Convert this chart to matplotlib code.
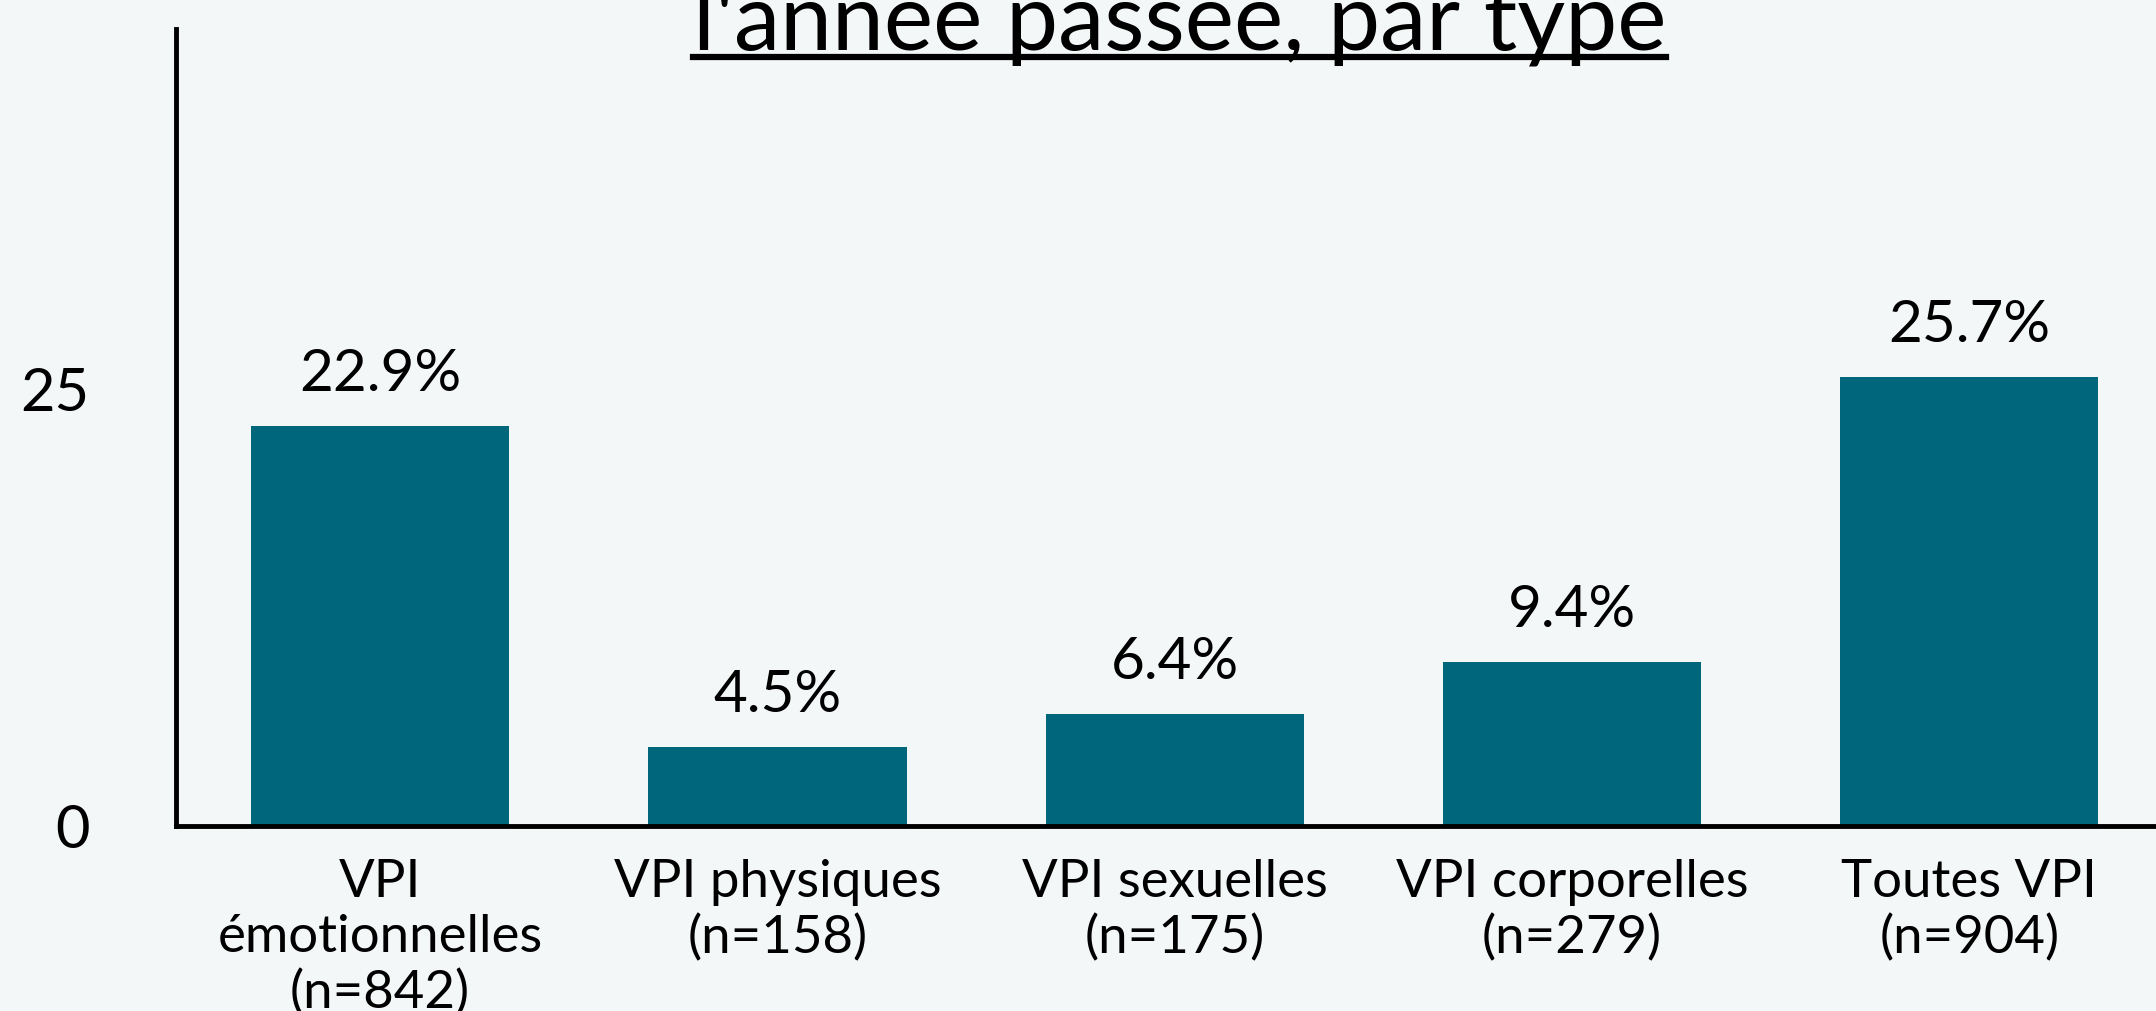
import matplotlib.pyplot as plt
from matplotlib.lines import Line2D

plt.rcParams['font.family'] = ['Lato', 'DejaVu Sans']

categories = ['VPI\némotionnelles\n(n=842)', 'VPI physiques\n(n=158)', 'VPI sexuelles\n(n=175)',
              'VPI corporelles\n(n=279)', 'Toutes VPI\n(n=904)']
values = [22.9, 4.5, 6.4, 9.4, 25.7]
value_labels = ['22.9%', '4.5%', '6.4%', '9.4%', '25.7%']
yticks = [0, 25]

bar_color = '#00667b'
bg = '#f3f7f8'

fig = plt.figure(figsize=(21.56, 10.11), dpi=100, facecolor=bg)
ax = fig.add_axes([0.0816, 0.183, 0.9184, 0.788], facecolor=bg)

x = list(range(len(values)))
bars = ax.bar(x, values, width=0.65, color=bar_color, zorder=2)

for xi, v, lab in zip(x, values, value_labels):
    ax.annotate(lab, (xi, v), xytext=(0, 18), textcoords='offset points',
                ha='center', va='bottom', fontsize=42)

ax.set_xlim(-0.514, 4.47)
ax.set_ylim(0, 45.6)
ax.set_yticks(yticks)
ax.set_yticklabels([str(t) for t in yticks], fontsize=43)
ax.set_xticks(x)
ax.set_xticklabels(categories, fontsize=38, linespacing=1.2)
ax.tick_params(axis='y', length=0, pad=62)
ax.tick_params(axis='x', length=0, pad=24)

for s in ['top', 'right']:
    ax.spines[s].set_visible(False)
for s in ['left', 'bottom']:
    ax.spines[s].set_linewidth(3.5)
    ax.spines[s].set_color('black')

# title, cut off at the top like the original
title = fig.text(0.547, 0.951, "l'année passée, par type", ha='center', va='baseline',
                 fontsize=67)
fig.canvas.draw()
bb = title.get_window_extent().transformed(fig.transFigure.inverted())
fig.add_artist(Line2D([bb.x0, bb.x1], [0.951 - 0.007, 0.951 - 0.007],
                      transform=fig.transFigure, color='black', linewidth=4.5))

fig.savefig('out.png', dpi=100, facecolor=bg)
